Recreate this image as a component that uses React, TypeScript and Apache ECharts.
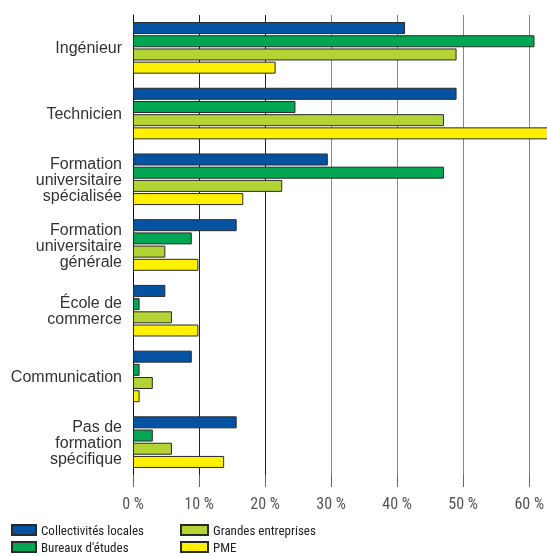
import React, { useEffect, useRef } from "react";
import * as echarts from "echarts";

const categories = [
  "Ingénieur",
  "Technicien",
  "Formation\nuniversitaire\nspécialisée",
  "Formation\nuniversitaire\ngénérale",
  "École de\ncommerce",
  "Communication",
  "Pas de\nformation\nspécifique",
];
const seriesNames = ["Collectivités locales", "Bureaux d'études", "Grandes entreprises", "PME"];
const collectivites = [41.2, 49.0, 29.5, 15.7, 4.9, 8.9, 15.7];
const bureaux = [60.8, 24.6, 47.1, 8.9, 1.0, 1.0, 3.0];
const grandes = [49.0, 47.1, 22.6, 4.9, 5.9, 3.0, 5.9];
const pme = [21.6, 66.0, 16.7, 9.9, 9.9, 1.0, 13.8];
const colors = ["#0453A3", "#00A651", "#B4D334", "#FFF000"];

const NARROW = '"Liberation Sans Narrow", "Arial Narrow", "Roboto Condensed", "DejaVu Sans Condensed", sans-serif';

export default function App() {
  const ref = useRef<HTMLDivElement>(null);
  useEffect(() => {
    if (!ref.current) return;
    const chart = echarts.init(ref.current, undefined, { renderer: "svg" });
    const values = [collectivites, bureaux, grandes, pme];
    const legendText = { fontFamily: NARROW, fontSize: 13, color: "#222", lineHeight: 14 };
    chart.setOption({
      animation: false,
      grid: { left: 133, width: 399, top: 15, height: 460 },
      legend: [
        {
          data: [seriesNames[0], seriesNames[1]],
          orient: "vertical",
          icon: "rect",
          left: 11,
          top: 523,
          itemWidth: 24,
          itemHeight: 10,
          itemGap: 3,
          padding: 0,
          textStyle: legendText,
        },
        {
          data: [seriesNames[2], seriesNames[3]],
          orient: "vertical",
          icon: "rect",
          left: 180,
          top: 523,
          itemWidth: 27,
          itemHeight: 10,
          itemGap: 3,
          padding: 0,
          textStyle: legendText,
        },
      ],
      xAxis: {
        type: "value",
        min: 0,
        max: 60,
        interval: 10,
        axisLine: { show: false },
        axisTick: { show: true, length: 12, lineStyle: { color: "#666", width: 1 } },
        splitLine: {
          show: true,
          lineStyle: { color: ["#222", "#222", "#222", "#888", "#888", "#888", "#888"], width: 1 },
        },
        axisLabel: {
          formatter: "{value} %",
          margin: 20,
          fontFamily: NARROW,
          fontSize: 16,
          color: "#555",
        },
      },
      yAxis: {
        type: "category",
        inverse: true,
        data: categories,
        axisLine: { show: true, lineStyle: { color: "#111", width: 1 } },
        axisTick: { show: false },
        axisLabel: {
          margin: 11,
          fontFamily: '"Liberation Sans", Arial, sans-serif',
          fontSize: 16,
          lineHeight: 16,
          color: "#333",
          align: "right",
          padding: [0, 0, 7, 0],
        },
      },
      series: seriesNames.map((name, i) => ({
        name,
        type: "bar",
        data: values[i],
        barWidth: 12,
        barGap: "10%",
        clip: false,
        itemStyle: { color: colors[i], borderColor: "#2a2a2a", borderWidth: 1 },
      })),
    });
    return () => chart.dispose();
  }, []);
  return <div ref={ref} style={{ position: "fixed", left: 0, top: 0, width: 547, height: 556 }} />;
}
